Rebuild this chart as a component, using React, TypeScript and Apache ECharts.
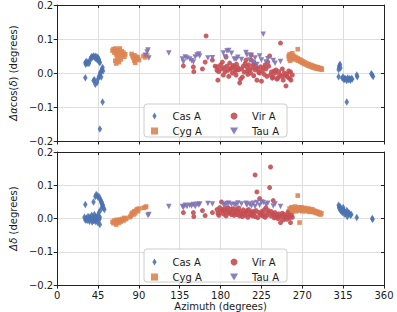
import React, { useEffect, useRef } from "react";
import * as echarts from "echarts";

// Sources
const SOURCES = ["Cas A", "Cyg A", "Vir A", "Tau A"];
const COLORS = ["#4C72B0", "#DD8452", "#C44E52", "#8172B3"];

// Top panel: Δα cos(δ) [azimuth deg, offset deg]
const casTop = [
  [31, 0.030], [31.5, 0.026], [32, 0.034], [33, 0.029], [34, 0.032], [35, 0.028], [36, 0.036],
  [37, 0.044], [38, 0.048], [39, 0.046], [40, 0.050], [41, 0.047], [42, 0.044], [42.5, 0.049],
  [43, 0.042], [44, 0.046], [44.5, 0.038], [45, 0.045], [46, 0.040], [46.5, 0.033], [47, 0.030],
  [31, -0.014], [40, -0.022], [41, -0.020], [42, -0.033], [44, -0.028], [45, -0.018], [46, -0.010],
  [47, -0.005], [47.5, 0.000], [48, 0.004], [49, 0.008], [49.5, 0.012], [50, 0.016], [50.5, 0.006],
  [48.5, -0.012], [50, -0.085], [47, -0.165],
  [310, 0.010], [310.5, 0.018], [311, 0.022], [311.5, 0.026], [312, 0.015], [310, -0.011],
  [314, -0.015], [315, -0.012], [316, -0.020], [317, -0.016], [318, -0.018], [319, -0.022],
  [320, -0.015], [321, -0.019], [322, -0.017], [323, -0.021], [324, -0.016], [325, -0.018],
  [330, -0.006], [330.5, -0.011], [346, -0.002], [347, -0.006], [348, -0.010], [319, -0.085],
];
const cygTop = [
  [61, 0.066], [62, 0.070], [63, 0.060], [64, 0.072], [65, 0.055], [66, 0.062], [67, 0.068],
  [68, 0.050], [69, 0.072], [70, 0.058], [71, 0.064], [72, 0.052], [73, 0.060], [74, 0.048],
  [66, 0.044], [70, 0.040], [64, 0.036], [68, 0.032], [65, 0.028], [75, 0.055], [82, 0.056],
  [83, 0.050], [84, 0.044], [85, 0.036], [86, 0.030], [87, 0.048], [88, 0.042], [89, 0.046],
  [90, 0.038], [85, 0.052], [95, 0.050], [97, 0.046], [99, 0.052],
  [255, 0.050], [255.5, 0.042], [256, 0.055], [256.5, 0.036], [257, 0.047], [258, 0.052],
  [258.5, 0.040], [259, 0.058], [260, 0.045], [261, 0.050], [262, 0.041], [263, 0.046],
  [264, 0.038], [265, 0.070], [265, 0.043], [266, 0.036], [267, 0.040], [268, 0.033],
  [269, 0.037], [270, 0.030], [271, 0.034], [272, 0.027], [273, 0.031], [274, 0.025],
  [275, 0.028], [276, 0.022], [277, 0.026], [278, 0.020], [279, 0.024], [280, 0.018],
  [281, 0.022], [282, 0.016], [283, 0.020], [284, 0.014], [285, 0.018], [286, 0.013],
  [287, 0.017], [288, 0.012], [289, 0.015], [290, 0.011], [291, 0.014], [291.5, 0.010],
];
const virTop = [
  [139, 0.021], [150, 0.018], [150.5, 0.004], [160, 0.012], [163, 0.032], [164, 0.109],
  [171, 0.038], [174, 0.020], [176, 0.008], [176.5, 0.018], [177, -0.021], [178, 0.004],
  [180, 0.024], [181, 0.012], [182, 0.032], [183, -0.006], [184, 0.016], [185, 0.004],
  [186, 0.047], [187, 0.020], [188, 0.008], [189, -0.010], [190, 0.029], [191, 0.012],
  [192, 0.015], [193, 0.000], [194, 0.022], [195, 0.018], [196, 0.006], [197, -0.006],
  [197.5, 0.026], [198, 0.009], [199, 0.016], [200, 0.009], [201, -0.029], [202, -0.018],
  [203, 0.012], [204, -0.012], [205, 0.020], [206, 0.003], [207, 0.028], [208, 0.038],
  [209, 0.018], [209.5, 0.006], [210, -0.004], [211, 0.024], [212, 0.010], [213, 0.000],
  [213.5, 0.053], [214, 0.038], [215, 0.015], [216, 0.024], [216.5, -0.008], [217, 0.030],
  [218, 0.009], [219, 0.020], [220, -0.021], [221, 0.012], [222, 0.002], [223, 0.000],
  [224, 0.018], [225, -0.024], [226, 0.006], [227, 0.015], [228, -0.004], [229, 0.024],
  [230, 0.012], [231, -0.010], [232, 0.032], [233, 0.020], [234, 0.050], [235, -0.006],
  [236, 0.003], [237, -0.015], [238, -0.012], [239, 0.006], [240, 0.000], [241, 0.009],
  [242, -0.018], [243, -0.015], [244, 0.004], [245, -0.006], [246, 0.088], [247, -0.010],
  [248, 0.012], [249, -0.021], [250, 0.000], [251, -0.008], [252, -0.038], [253, -0.004],
  [254, -0.012], [255, 0.006], [256, -0.016], [257, 0.003], [257.5, -0.021], [259, -0.006],
];
const tauTop = [
  [97, 0.052], [99, 0.062], [100, 0.068], [101, 0.044], [123, 0.059], [138, 0.041],
  [139, 0.032], [141, 0.047], [143, 0.044], [146, 0.041], [148, 0.036], [150, 0.032],
  [152, 0.047], [154, 0.053], [156, 0.056], [157, 0.050], [166, 0.044], [171, 0.045],
  [183, 0.059], [185, 0.047], [187, 0.065], [189, 0.066], [192, 0.058], [195, 0.041],
  [197, 0.040], [199, 0.046], [203, 0.040], [208, 0.060], [209, 0.053], [212, 0.038],
  [214, 0.052], [216, 0.030], [218, 0.044], [220, 0.025], [223, 0.050], [225, 0.038],
  [227, 0.114], [230, 0.032], [232, 0.042], [238, 0.037], [240, 0.029], [246, 0.034],
];

// Bottom panel: Δδ [azimuth deg, offset deg]
const casBot = [
  [30, 0.004], [31, 0.042], [31, -0.004], [32, 0.002], [33, -0.006], [34, 0.006], [35, 0.000],
  [35.5, -0.008], [36, 0.004], [37, -0.003], [38, 0.010], [38.5, -0.010], [39, 0.002],
  [40, 0.050], [40, -0.006], [41, 0.012], [41.5, 0.000], [42, -0.009], [42.5, 0.006],
  [43, -0.004], [44, 0.003], [44.5, -0.012], [45, 0.010], [46, 0.018], [46.5, -0.002],
  [47, 0.004], [47, -0.018], [42, 0.066], [43, 0.072], [44, 0.069], [45, 0.064], [46, 0.066],
  [47, 0.060], [48, 0.055], [48.5, 0.048], [49, 0.050], [49.5, 0.042], [50, 0.036],
  [50.5, 0.040], [51, 0.032], [52, 0.027], [48, 0.027],
  [310, 0.040], [310.5, 0.034], [311, 0.030], [311.5, 0.036], [312, 0.024], [313, 0.028],
  [314, 0.018], [315, 0.033], [315.5, 0.026], [316, 0.022], [316.5, 0.014], [317, 0.020],
  [318, 0.016], [319, 0.024], [319.5, 0.006], [320, 0.020], [321, 0.014], [322, 0.016],
  [323, 0.010], [324, 0.012], [330, 0.003], [347, 0.000], [347.5, -0.002],
];
const cygBot = [
  [61, -0.010], [62, -0.014], [63, -0.006], [64, -0.012], [65, -0.018], [65.5, -0.004],
  [66, -0.010], [67, -0.007], [68, -0.013], [69, -0.003], [70, -0.009], [71, -0.005],
  [72, -0.001], [73, -0.006], [74, 0.002], [75, -0.002], [76, 0.000], [80, 0.004],
  [81, 0.008], [82, 0.014], [83, 0.018], [84, 0.012], [85, 0.022], [86, 0.016], [87, 0.024],
  [88, 0.028], [89, 0.022], [90, 0.030], [95, 0.032], [97, 0.034], [98, 0.036],
  [255, 0.022], [256, 0.030], [257, 0.026], [258, 0.034], [259, 0.020], [260, 0.032],
  [261, 0.026], [262, 0.036], [263, 0.022], [264, 0.030], [265, 0.069], [265, 0.034],
  [266, 0.024], [267, -0.012], [267.5, 0.032], [268, 0.026], [269, 0.034], [270, 0.022],
  [271, 0.030], [272, 0.026], [273, 0.032], [274, 0.022], [275, 0.028], [276, 0.024],
  [277, 0.030], [278, 0.020], [279, 0.026], [280, 0.022], [281, 0.028], [282, 0.020],
  [283, 0.024], [284, 0.018], [285, 0.022], [286, 0.016], [287, 0.020], [288, 0.014],
  [289, 0.018], [290, 0.012], [291, 0.016],
];
const virBot = [
  [139, 0.018], [150, 0.018], [150.5, 0.006], [160, 0.024], [163, 0.009], [171, 0.018],
  [176, 0.027], [177, 0.016], [178, 0.010], [179, 0.033], [180, 0.022], [181, 0.050],
  [182, 0.026], [183, 0.014], [184, 0.030], [185, 0.021], [186, 0.008], [187, 0.026],
  [188, 0.033], [189, 0.016], [190, 0.018], [191, 0.028], [192, 0.012], [193, 0.020],
  [194, 0.030], [195, 0.010], [196, 0.018], [197, 0.027], [198, 0.012], [199, 0.022],
  [200, 0.032], [201, 0.008], [202, 0.021], [203, 0.014], [204, 0.006], [205, 0.026],
  [206, 0.016], [207, 0.010], [208, 0.018], [209, 0.024], [210, 0.004], [211, 0.027],
  [212, 0.014], [213, 0.012], [214, 0.020], [215, 0.008], [216, 0.021], [217, 0.015],
  [218, 0.131], [218, 0.006], [219, 0.024], [220, 0.080], [221, 0.003], [222, 0.018],
  [223, 0.060], [224, 0.012], [225, 0.021], [226, 0.008], [227, 0.016], [228, 0.026],
  [229, 0.004], [230, 0.033], [231, 0.010], [232, 0.018], [233, 0.024], [234, 0.093],
  [235, 0.155], [235.5, 0.008], [236, 0.021], [237, 0.014], [238, 0.054], [238.5, 0.012],
  [239, 0.002], [240, 0.018], [241, 0.006], [242, 0.010], [243, 0.000], [244, 0.014],
  [245, 0.003], [246, -0.012], [247, 0.008], [248, 0.016], [249, -0.004], [250, 0.012],
  [251, 0.004], [252, 0.006], [253, -0.002], [254, 0.018], [255, 0.008], [256, 0.002],
  [257, -0.012], [258, 0.010], [259, 0.004],
];
const tauBot = [
  [100, 0.009], [101, 0.012], [123, 0.036], [138, 0.036], [139, 0.033], [141, 0.040],
  [143, 0.036], [146, 0.040], [148, 0.038], [150, 0.042], [152, 0.036], [154, 0.043],
  [156, 0.041], [157, 0.044], [166, 0.045], [171, 0.044], [183, 0.042], [185, 0.040],
  [187, 0.045], [189, 0.046], [192, 0.042], [195, 0.043], [197, 0.040], [199, 0.047],
  [203, 0.044], [208, 0.046], [209, 0.040], [212, 0.044], [214, 0.038], [216, 0.046],
  [218, 0.036], [220, 0.048], [223, 0.040], [225, 0.050], [227, 0.048], [230, 0.042],
  [232, 0.046], [238, 0.038], [240, 0.044], [246, 0.036],
];

const FONT = "DejaVu Sans";
const TXT = "#1a1a1a";

const ICON_DIAMOND = "path://M3,0L6,5L3,10L0,5Z";
const ICON_SQUARE = "path://M0,0L10,0L10,10L0,10Z";
const ICON_TRI = "path://M0,0L10,0L5,8.66Z";

const SYMBOLS: any[] = [
  { symbol: "diamond", symbolSize: [4.5, 7.5], symbolRotate: 0 },
  { symbol: "rect", symbolSize: 4.6, symbolRotate: 0 },
  { symbol: "circle", symbolSize: 5, symbolRotate: 0 },
  { symbol: "triangle", symbolSize: 5.5, symbolRotate: 180 },
];

function fmtY(v: number) {
  return v.toFixed(1).replace("-", "\u2212");
}

export default function App() {
  const ref = useRef<HTMLDivElement>(null);
  useEffect(() => {
    if (!ref.current) return;
    const chart = echarts.init(ref.current, null, { renderer: "svg" });
    const panels = [
      [casTop, cygTop, virTop, tauTop],
      [casBot, cygBot, virBot, tauBot],
    ];
    const series: any[] = [];
    panels.forEach((p, pi) => {
      p.forEach((d, si) => {
        series.push({
          type: "scatter",
          name: SOURCES[si],
          xAxisIndex: pi,
          yAxisIndex: pi,
          data: d,
          ...SYMBOLS[si],
          itemStyle: { color: COLORS[si], opacity: 0.9 },
          z: 2 + si,
        });
      });
    });

    const grids = [
      { left: 48, top: 5, width: 336, height: 136 },
      { left: 48, top: 152, width: 336, height: 134 },
    ];

    const axisLabelStyle = { fontFamily: FONT, fontSize: 10, color: TXT };
    const mkX = (gi: number, showLabel: boolean) => ({
      type: "value",
      gridIndex: gi,
      min: 0,
      max: 360,
      interval: 45,
      axisLine: { show: true, onZero: false, lineStyle: { color: "#222", width: 1 } },
      axisTick: { show: true, length: 3.5, lineStyle: { color: "#222" } },
      axisLabel: { show: showLabel, margin: 5, ...axisLabelStyle },
      splitLine: { show: true, lineStyle: { color: "#dedede", width: 1 } },
      name: showLabel ? "Azimuth (degrees)" : "",
      nameLocation: "middle",
      nameGap: 15,
      nameTextStyle: { fontFamily: FONT, fontSize: 10, color: TXT },
    });
    const mkXTop = (gi: number) => ({
      type: "value",
      gridIndex: gi,
      position: "top",
      min: 0,
      max: 360,
      interval: 45,
      axisLine: { show: true, onZero: false, lineStyle: { color: "#222", width: 1 } },
      axisTick: { show: true, inside: true, length: 3, lineStyle: { color: "#222" } },
      axisLabel: { show: false },
      splitLine: { show: false },
    });
    const mkY = (gi: number, name: string) => ({
      type: "value",
      gridIndex: gi,
      min: -0.2,
      max: 0.2,
      interval: 0.1,
      axisLine: { show: true, onZero: false, lineStyle: { color: "#222", width: 1 } },
      axisTick: { show: true, length: 3.5, lineStyle: { color: "#222" } },
      axisLabel: { margin: 4, formatter: fmtY, ...axisLabelStyle },
      splitLine: { show: true, lineStyle: { color: "#dedede", width: 1 } },
      name,
      nameLocation: "middle",
      nameGap: 31,
      nameRotate: 90,
      nameTextStyle: {
        fontFamily: FONT,
        fontSize: 10,
        color: TXT,
        rich: { i: { fontFamily: FONT, fontSize: 10, fontStyle: "italic", color: TXT } },
      },
    });
    const mkYRight = (gi: number) => ({
      type: "value",
      gridIndex: gi,
      position: "right",
      min: -0.2,
      max: 0.2,
      interval: 0.1,
      axisLine: { show: true, onZero: false, lineStyle: { color: "#222", width: 1 } },
      axisTick: { show: true, inside: true, length: 3, lineStyle: { color: "#222" } },
      axisLabel: { show: false },
      splitLine: { show: false },
    });

    const legendText = { fontFamily: FONT, fontSize: 10, color: TXT, lineHeight: 12 };
    const mkLegend = (left: number, top: number, names: string[], icons: string[]) => ({
      left,
      top,
      orient: "vertical",
      itemWidth: 26,
      itemHeight: 7,
      itemGap: 3,
      selectedMode: false,
      symbolKeepAspect: true,
      textStyle: legendText,
      data: names.map((n, i) => ({ name: n, icon: icons[i] })),
      z: 10,
    });

    const legendBoxes = [104, 249].map((y) => ({
      type: "rect",
      shape: { x: 144, y, width: 143, height: 33, r: 3 },
      style: { fill: "rgba(255,255,255,0.8)", stroke: "#cccccc", lineWidth: 1 },
      z: 9,
    }));

    chart.setOption({
      animation: false,
      backgroundColor: "#ffffff",
      grid: grids,
      xAxis: [mkX(0, false), mkX(1, true), mkXTop(0), mkXTop(1)],
      yAxis: [
        mkY(0, "{i|\u0394\u03b1}cos({i|\u03b4}) (degrees)"),
        mkY(1, "{i|\u0394\u03b4} (degrees)"),
        mkYRight(0),
        mkYRight(1),
      ],
      legend: [
        mkLegend(146, 105, ["Cas A", "Cyg A"], [ICON_DIAMOND, ICON_SQUARE]),
        mkLegend(225, 105, ["Vir A", "Tau A"], ["circle", ICON_TRI]),
        mkLegend(146, 251, ["Cas A", "Cyg A"], [ICON_DIAMOND, ICON_SQUARE]),
        mkLegend(225, 251, ["Vir A", "Tau A"], ["circle", ICON_TRI]),
      ],
      graphic: legendBoxes,
      series,
    });
    return () => chart.dispose();
  }, []);
  return (
    <div
      ref={ref}
      style={{ position: "absolute", left: 0, top: 0, width: 397, height: 312 }}
    />
  );
}
